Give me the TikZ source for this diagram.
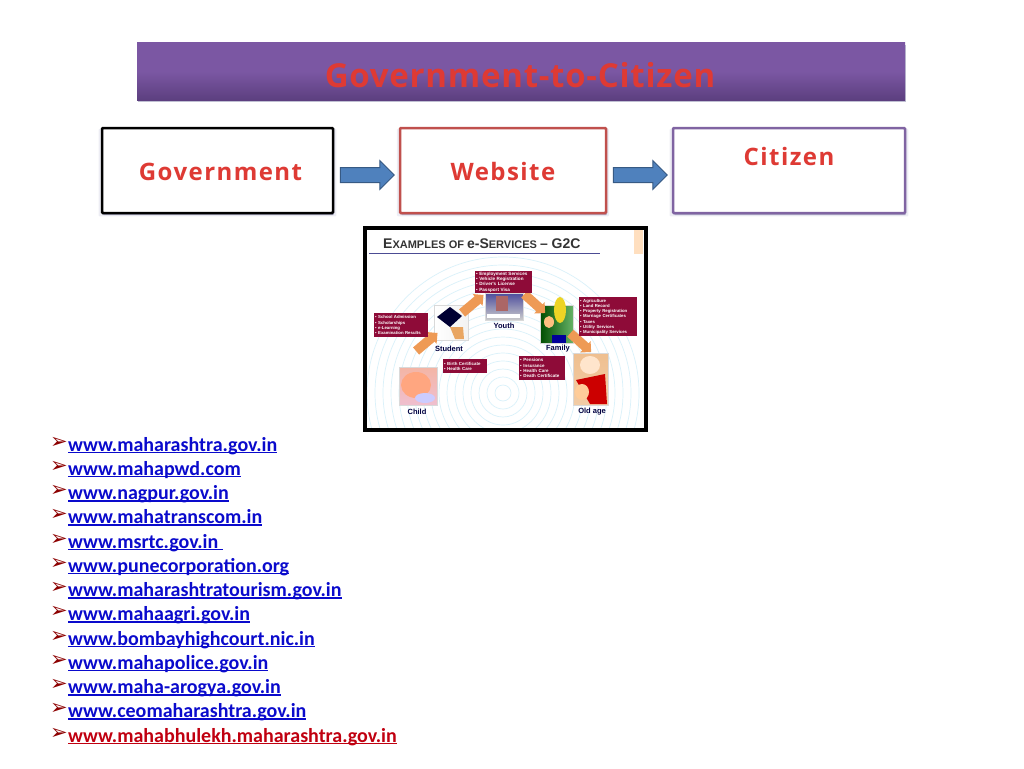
\documentclass[tikz,border=0pt]{standalone}
\usepackage{fontspec}
\setmainfont{Open Sans}
\newfontfamily\linkfont{Carlito}
\newfontfamily\bulletfont{DejaVu Sans}
\newfontfamily\shotfont{Liberation Sans}
\usetikzlibrary{shapes, shadows, positioning}
\definecolor{barpurple}{HTML}{7B57A3}
\definecolor{barlow}{HTML}{5C3F7F}
\definecolor{headred}{HTML}{DE3A34}
\definecolor{boxred}{HTML}{C0504D}
\definecolor{boxpurple}{HTML}{8064A2}
\definecolor{arrowblue}{HTML}{4F81BD}
\definecolor{linkblue}{HTML}{0A0ACC}
\definecolor{linkred}{HTML}{C00010}
\definecolor{shotred}{HTML}{8E0B38}
\definecolor{shotarrow}{HTML}{EE9A55}
\newsavebox{\sitebox}
\newcommand{\siteline}[1]{\sbox\sitebox{#1}\rlap{\rule[-2pt]{\wd\sitebox}{1.3pt}}\usebox\sitebox}
\tikzstyle{softshadow}=[drop shadow={shadow xshift=1pt, shadow yshift=-2pt, opacity=0.25, fill=black!70!blue}]
\tikzstyle{flowbox}=[draw, line width=2.5pt, fill=white, rounded corners=1pt, minimum height=85pt, general shadow={fill=blue!40!black, opacity=0.07, shadow scale=1.03, shadow yshift=-2pt}, softshadow]
\tikzstyle{flowtext}=[text=headred, font=\bfseries\fontsize{24}{30}\selectfont\addfontfeature{LetterSpace=6}, inner sep=0]
\tikzstyle{flowarrow}=[single arrow, draw=arrowblue!70!black, line width=1pt, fill=arrowblue, minimum width=28pt, minimum height=54pt, single arrow head extend=7pt, single arrow head indent=0pt, inner xsep=0, inner ysep=7pt]
\tikzstyle{sitelink}=[anchor=base west, inner sep=0, font=\linkfont\bfseries\fontsize{20}{24}\selectfont]
\tikzstyle{sitemark}=[anchor=base east, inner sep=0, text=red!55!black, font=\bulletfont\fontsize{21}{24}\selectfont]
\tikzstyle{redtag}=[fill=shotred, text=white, align=left, inner sep=1pt, anchor=north west]
\tikzstyle{agetext}=[inner sep=0, text=black!75!blue, font=\shotfont\bfseries\fontsize{7.5}{8}\selectfont]
\tikzstyle{stagearrow}=[single arrow, fill=shotarrow, minimum width=15pt, minimum height=28pt, single arrow head extend=3pt, single arrow head indent=0pt, inner xsep=0, inner ysep=4.5pt]
\tikzstyle{photo}=[draw=black!15, line width=1pt]
\begin{document}
\begin{tikzpicture}[x=1pt, y=-1pt]
\useasboundingbox (0,0) rectangle (1024,768);
% title bar
\node (bar) [minimum width=768pt, minimum height=57pt, inner sep=0, top color=barpurple, bottom color=barlow, middle color=barpurple, softshadow] at (521,71.5) {};
\node (title) [text=headred, inner sep=0, font=\bfseries\fontsize{33}{38}\selectfont\addfontfeature{LetterSpace=2.3}] at (520,75) {Government-to-Citizen};
% flow row
\node (gov) [flowbox, draw=black, minimum width=231pt] at (217.5,170.5) {};
\node (web) [flowbox, draw=boxred, minimum width=206pt] at (503,170.5) {};
\node (cit) [flowbox, draw=boxpurple, minimum width=232pt] at (789,170.5) {};
\node (govtext) [flowtext] at (220.5,171.5) {Government};
\node (webtext) [flowtext] at (503,171.5) {Website};
\node (cittext) [flowtext] at (789,156) {Citizen};
\node (gowe) [flowarrow] at (363.5,175) {};
\node (wecit) [flowarrow] at (636.5,175) {};
% screenshot
\node (shot) [draw=black, line width=4pt, fill=white, minimum width=281pt, minimum height=202pt, inner sep=0, softshadow] at (505,328.5) {};
\begin{scope}
\clip (367,256) rectangle (643,427);
\foreach \r in {8,16,...,136} {
    \draw [black!8!cyan!15!white, line width=0.7pt] (503,393) circle (\r);
}
\end{scope}
\fill [orange!25] (634,230) rectangle (643,254);
\draw [black!60!blue!70!white, line width=1pt] (369,253.5) -- (600,253.5);
\node (shottitle) [anchor=base west, inner sep=0, text=black!80, font=\shotfont\bfseries\fontsize{14}{16}\selectfont] at (383,248) {E\fontsize{11}{16}\selectfont XAMPLES OF \fontsize{14}{16}\selectfont e-S\fontsize{11}{16}\selectfont ERVICES \fontsize{14}{16}\selectfont – G2C};
% photos
\shade [photo, left color=white, right color=black!5] (434,305) rectangle (468,340);
\fill [black!80!blue] (437,317) -- (450,307) -- (462,316) -- (450,327) -- cycle;
\fill [orange!50!brown!70] (450,327) -- (463,327) -- (464,339) -- (455,339) -- cycle;
\shade [photo, top color=black!55!blue!70, bottom color=black!20] (485,293) rectangle (523,320);
\fill [red!45!black!60] (496,296) rectangle (508,311);
\fill [white] (487,314) rectangle (520,318);
\shade [photo, left color=black!70!green, right color=black!50!green!60] (540,305) rectangle (573,343);
\fill [yellow!70!brown] (560,310) ellipse (6 and 13);
\fill [orange!50!white] (549,322) ellipse (5 and 6);
\fill [blue!60!black] (552,335) rectangle (566,343);
\shade [photo, top color=purple!45!orange!40, bottom color=purple!25] (399,367) rectangle (437,405);
\fill [orange!60!red!50] (416,385) ellipse (15 and 13);
\fill [white!80!blue] (425,398) ellipse (10 and 5);
\shade [photo, top color=orange!50!brown!50, bottom color=orange!50!brown!40] (573,353) rectangle (608,405);
\fill [white!80!orange] (590,365) ellipse (10 and 9);
\fill [red!80!black] (576,380) -- (605,374) -- (607,404) -- (590,404) -- cycle;
\fill [orange!40!white] (582,392) ellipse (7 and 8);
% orange arrows
\node (chst) [stagearrow, rotate=40] at (425,343.5) {};
\node (styo) [stagearrow, rotate=40] at (471,305.5) {};
\node (yofa) [stagearrow, rotate=-42] at (533,302) {};
\node (faol) [stagearrow, rotate=-42] at (579,341) {};
% red tags
\node (tagtop) [redtag, text width=55pt, minimum height=22pt, font=\shotfont\bfseries\fontsize{4.6}{5.2}\selectfont] at (475,271) {• Employment Services\\• Vehicle Registration\\• Driver's License\\• Passport Visa};
\node (tagleft) [redtag, text width=52pt, minimum height=24pt, font=\shotfont\bfseries\fontsize{4.3}{5.4}\selectfont] at (374,313) {• School Admission\\• Scholarships\\• e-Learning\\• Examination Results};
\node (tagright) [redtag, text width=56pt, minimum height=39pt, font=\shotfont\bfseries\fontsize{4.3}{5.2}\selectfont] at (579,297) {• Agriculture\\• Land Record\\• Property Registration\\• Marriage Certificates\\• Taxes\\• Utility Services\\• Municipality Services};
\node (tagbirth) [redtag, text width=42pt, minimum height=14pt, font=\shotfont\bfseries\fontsize{4.4}{5.2}\selectfont] at (443,359) {• Birth Certificate\\• Health Care};
\node (tagold) [redtag, text width=44pt, minimum height=24pt, font=\shotfont\bfseries\fontsize{4.5}{5.4}\selectfont] at (519,356) {• Pensions\\• Insurance\\• Health Care\\• Death Certificate};
% stage labels
\node (student) [agetext] at (449,349) {Student};
\node (youth) [agetext] at (504,326) {Youth};
\node (family) [agetext] at (558,349) {Family};
\node (child) [agetext] at (417,412) {Child};
\node (oldage) [agetext] at (592,412) {Old age};
% site list
\foreach \i/\site [count=\n from 0] in {a/www.maharashtra.gov.in, b/www.mahapwd.com, c/www.nagpur.gov.in, d/www.mahatranscom.in, e/www.msrtc.gov.in\ , f/www.punecorporation.org, g/www.maharashtratourism.gov.in, h/www.mahaagri.gov.in, i/www.bombayhighcourt.nic.in, j/www.mahapolice.gov.in, k/www.maha-arogya.gov.in, l/www.ceomaharashtra.gov.in} {
    \node (site\i) [sitelink, text=linkblue] at (68,451+24.25*\n) {\siteline{\site}};
    \node (mark\i) [sitemark] at (68,448+24.25*\n) {➢};
}
\node (sitem) [sitelink, text=linkred] at (68,742) {\siteline{www.mahabhulekh.maharashtra.gov.in}};
\node (markm) [sitemark] at (68,739) {➢};
\end{tikzpicture}
\end{document}
